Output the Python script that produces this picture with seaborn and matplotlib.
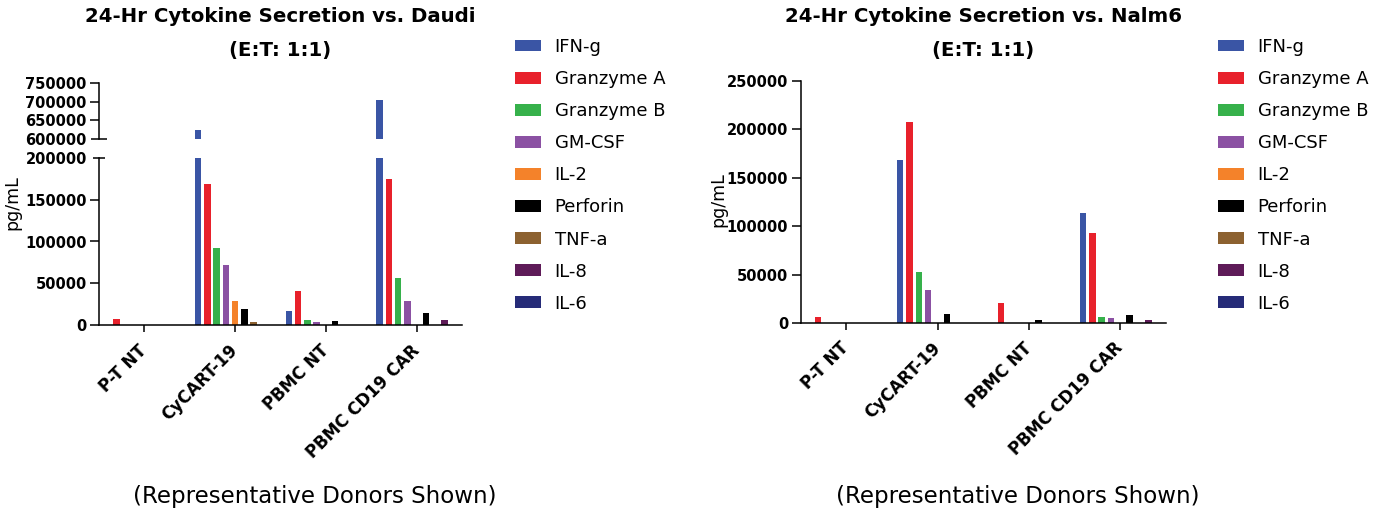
import numpy as np
import pandas as pd
import matplotlib
matplotlib.use("Agg")
import matplotlib.pyplot as plt
import seaborn as sns

# ---------------- data ----------------
groups = ["P-T NT", "CyCART-19", "PBMC NT", "PBMC CD19 CAR"]
cytokines = ["IFN-g", "Granzyme A", "Granzyme B", "GM-CSF", "IL-2",
             "Perforin", "TNF-a", "IL-8", "IL-6"]
colors = ["#3A55A5", "#E8212B", "#36B14B", "#8B51A3", "#F4822A",
          "#000000", "#8C6130", "#5E1B58", "#262B78"]

# Daudi (values per group, in order of `groups`)
daudi_ifng = [0, 625000, 17000, 703000]
daudi_gzma = [7500, 169000, 41000, 175000]
daudi_gzmb = [0, 92000, 6700, 57000]
daudi_gmcsf = [0, 72000, 3600, 29000]
daudi_il2 = [0, 29000, 0, 0]
daudi_perforin = [0, 19000, 5500, 15000]
daudi_tnfa = [0, 4300, 0, 0]
daudi_il8 = [0, 0, 0, 6700]
daudi_il6 = [0, 0, 0, 0]

# Nalm6
nalm6_ifng = [0, 168000, 0, 113000]
nalm6_gzma = [6500, 207000, 21000, 93000]
nalm6_gzmb = [0, 53000, 0, 6000]
nalm6_gmcsf = [0, 34000, 0, 5000]
nalm6_il2 = [0, 0, 0, 0]
nalm6_perforin = [0, 9000, 3000, 8000]
nalm6_tnfa = [0, 0, 0, 0]
nalm6_il8 = [0, 0, 0, 2600]
nalm6_il6 = [0, 0, 0, 0]

lower_ticks_daudi = [0, 50000, 100000, 150000, 200000]
upper_ticks_daudi = [600000, 650000, 700000, 750000]
ticks_nalm6 = [0, 50000, 100000, 150000, 200000, 250000]

title_daudi = "24-Hr Cytokine Secretion vs. Daudi"
title_nalm6 = "24-Hr Cytokine Secretion vs. Nalm6"
subtitle = "(E:T: 1:1)"
ylabel = "pg/mL"
footnote = "(Representative Donors Shown)"


def long_df(series):
    rows = []
    for cyt, vals in zip(cytokines, series):
        for g, v in zip(groups, vals):
            rows.append({"group": g, "cytokine": cyt, "value": v})
    return pd.DataFrame(rows)


df_daudi = long_df([daudi_ifng, daudi_gzma, daudi_gzmb, daudi_gmcsf, daudi_il2,
                    daudi_perforin, daudi_tnfa, daudi_il8, daudi_il6])
df_nalm6 = long_df([nalm6_ifng, nalm6_gzma, nalm6_gzmb, nalm6_gmcsf, nalm6_il2,
                    nalm6_perforin, nalm6_tnfa, nalm6_il8, nalm6_il6])

# ---------------- style ----------------
sns.set_style("ticks")
plt.rcParams["font.family"] = ["DejaVu Sans"]
plt.rcParams["axes.linewidth"] = 1.1
for k in ("text.color", "axes.labelcolor", "xtick.color", "ytick.color",
          "axes.edgecolor"):
    plt.rcParams[k] = "black"

W, H = 1373, 511
fig = plt.figure(figsize=(W / 100, H / 100), dpi=100)


def fx(px):
    return px / W


def fy(py):
    return 1 - py / H


def bars(ax, df):
    sns.barplot(data=df, x="group", y="value", hue="cytokine",
                order=groups, hue_order=cytokines, palette=colors,
                saturation=1, width=0.92, gap=0.3, errorbar=None,
                linewidth=0, ax=ax, legend=True)
    ax.set_xlim(-0.5, 3.5)
    ax.set_xlabel("")
    ax.set_ylabel("")


def style_y(ax, ticks):
    ax.set_yticks(ticks)
    ax.set_yticklabels([str(t) for t in ticks])
    ax.tick_params(axis="y", length=6.3, width=1.1, pad=2.5)
    for lab in ax.get_yticklabels():
        lab.set_fontweight("bold")
        lab.set_fontsize(10.5)


def style_x(ax):
    ax.set_xticks(range(len(groups)))
    ax.set_xticklabels(groups, rotation=45, ha="right", va="center",
                       rotation_mode="anchor", fontsize=12, fontweight="bold")
    ax.tick_params(axis="x", length=5, width=1.1, pad=11)


def break_tick(tick, size):
    # axis-break mark: tick crossing the spine
    tick.tick1line.set_marker("_")
    tick.tick1line.set_markersize(size)


# ---------- left: Daudi with broken axis ----------
axL_low = fig.add_axes([fx(99), fy(325.3), fx(462) - fx(99), (325.3 - 157.7) / H])
axL_up = fig.add_axes([fx(99), fy(139.3), fx(462) - fx(99), (139.3 - 82.7) / H])

bars(axL_low, df_daudi)
bars(axL_up, df_daudi)
handles, labels = axL_low.get_legend_handles_labels()
for a in (axL_low, axL_up):
    if a.get_legend() is not None:
        a.get_legend().remove()

axL_low.set_ylim(0, 200000)
axL_up.set_ylim(600000, 750000)
style_y(axL_low, lower_ticks_daudi)
style_y(axL_up, upper_ticks_daudi)
style_x(axL_low)
sns.despine(ax=axL_low)
sns.despine(ax=axL_up, bottom=True)
axL_up.set_xticks([])
break_tick(axL_up.yaxis.get_major_ticks()[0], 11)
break_tick(axL_low.yaxis.get_major_ticks()[-1], 9)

# ---------- right: Nalm6 ----------
axR = fig.add_axes([fx(800.5), fy(323), fx(1166) - fx(800.5), (323 - 80.7) / H])
bars(axR, df_nalm6)
if axR.get_legend() is not None:
    axR.get_legend().remove()
axR.set_ylim(0, 250000)
style_y(axR, ticks_nalm6)
style_x(axR)
sns.despine(ax=axR)

# ---------- titles ----------
for cx, t in ((fx((99 + 462) / 2), title_daudi), (fx((800.5 + 1166) / 2), title_nalm6)):
    fig.text(cx, fy(22), t, ha="center", va="baseline", fontsize=14.2,
             fontweight="bold")
    fig.text(cx, fy(56), subtitle, ha="center", va="baseline", fontsize=14.2,
             fontweight="bold")

# ---------- y labels ----------
fig.text(fx(12), fy(203), ylabel, rotation=90, ha="center", va="center",
         fontsize=12.5)
fig.text(fx(718), fy(200), ylabel, rotation=90, ha="center", va="center",
         fontsize=12.5)

# ---------- legends ----------
for lx in (515, 1218):
    fig.legend(handles, labels, loc="upper left",
               bbox_to_anchor=(fx(lx), fy(38)), frameon=False,
               fontsize=13, handlelength=1.45, handleheight=0.62,
               handletextpad=0.75, labelspacing=0.78, borderpad=0,
               borderaxespad=0)

# ---------- footnotes ----------
fig.text(fx(315), fy(496), footnote, ha="center", va="center", fontsize=16.5)
fig.text(fx(1018), fy(496), footnote, ha="center", va="center", fontsize=16.5)

fig.savefig("out.png", dpi=100)
